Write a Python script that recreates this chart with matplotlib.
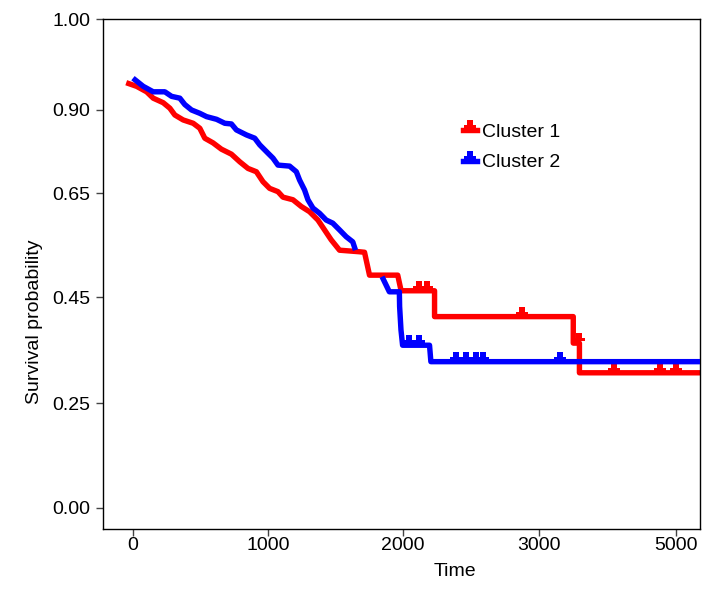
import numpy as np
import matplotlib
matplotlib.use("Agg")
import matplotlib.pyplot as plt
from matplotlib.path import Path
from matplotlib.lines import Line2D

plt.rcParams['font.family'] = ['Liberation Sans', 'DejaVu Sans']

# ---------------- data ----------------
groups = ["Cluster 1", "Cluster 2"]
colors = ["#FF0000", "#0000FF"]

red_time = [-50, 27, 101, 150, 224, 273, 310, 372, 446, 495, 532, 593, 655, 729,
            791, 852, 914, 963, 1012, 1074, 1111, 1185, 1247, 1308, 1370, 1419,
            1468, 1530, 1678, 1715, 1752, 1961, 1986, 2232, 2232, 3500, 3500,
            3590, 3590, 5400]
red_surv = [0.930, 0.926, 0.920, 0.913, 0.908, 0.902, 0.885, 0.870, 0.860, 0.845,
            0.815, 0.801, 0.782, 0.767, 0.744, 0.724, 0.714, 0.684, 0.664, 0.654,
            0.642, 0.637, 0.624, 0.614, 0.598, 0.579, 0.560, 0.540, 0.537, 0.536,
            0.492, 0.492, 0.462, 0.462, 0.413, 0.413, 0.363, 0.363, 0.307, 0.307]
red_censor = [2116, 2175, 2872, 3580, 4095, 4767, 5000]

blue_time = [0, 76, 150, 236, 286, 347, 384, 434, 495, 545, 619, 680, 729, 766,
             840, 902, 939, 1000, 1037, 1074, 1160, 1210, 1234, 1271, 1296, 1333,
             1382, 1431, 1480, 1530, 1579, 1628, 1648, 1700, 1845, 1899, 1973,
             1975, 1985, 1997, 2195, 2205, 5400]
blue_surv = [0.935, 0.926, 0.920, 0.920, 0.915, 0.913, 0.906, 0.900, 0.890, 0.880,
             0.872, 0.860, 0.858, 0.840, 0.825, 0.815, 0.795, 0.770, 0.755, 0.734,
             0.731, 0.714, 0.689, 0.659, 0.637, 0.621, 0.611, 0.598, 0.592, 0.579,
             0.566, 0.556, 0.540, np.nan, 0.489, 0.460, 0.460, 0.432, 0.388, 0.359,
             0.359, 0.328, 0.328]
blue_censor = [2047, 2121, 2392, 2466, 2535, 2589, 3307]

x_ticks = [0, 1000, 2000, 3000, 5000]
y_ticks = [0.00, 0.25, 0.45, 0.65, 0.90, 1.00]

# ------------- axis scale (non-uniform tick spacing as in reference) -------------
x_tick_pos = [0, 135, 270, 406, 543]
y_tick_pos = [0, 105, 211, 315, 398, 489]


def piecewise(xs, ys):
    xs = np.asarray(xs, float)
    ys = np.asarray(ys, float)

    def f(v):
        v = np.asarray(v, float)
        shape = v.shape
        v1 = np.atleast_1d(v).ravel()
        out = np.interp(v1, xs, ys)
        lo = v1 < xs[0]
        hi = v1 > xs[-1]
        out[lo] = ys[0] + (v1[lo] - xs[0]) * (ys[1] - ys[0]) / (xs[1] - xs[0])
        out[hi] = ys[-1] + (v1[hi] - xs[-1]) * (ys[-1] - ys[-2]) / (xs[-1] - xs[-2])
        out[np.isnan(v1)] = np.nan
        return out.reshape(shape)
    return f


fig = plt.figure(figsize=(7.13, 5.93), dpi=100)
ax = fig.add_axes([103 / 713, 1 - 529 / 593, 597 / 713, 510 / 593])

ax.set_xscale('function', functions=(piecewise(x_ticks, x_tick_pos),
                                     piecewise(x_tick_pos, x_ticks)))
ax.set_yscale('function', functions=(piecewise(y_ticks, y_tick_pos),
                                     piecewise(y_tick_pos, y_ticks)))

# censor marker (upside-down T sitting on the line)
verts = [(-6, 2), (6, 2), (6, 5), (3, 5), (3, 10), (-3, 10), (-3, 5), (-6, 5), (-6, 2)]
codes = [Path.MOVETO] + [Path.LINETO] * 7 + [Path.CLOSEPOLY]
cens_marker = Path(verts, codes)
ms = 14.4
lw = 3.9


def value_at(times, survs, t):
    best = None
    for ti, si in zip(times, survs):
        if ti <= t and not np.isnan(si):
            best = si
    return best


series = [(red_time, red_surv, red_censor), (blue_time, blue_surv, blue_censor)]
for k, (t, s, c) in enumerate(series):
    ax.plot(t, s, color=colors[k], lw=lw, solid_joinstyle='round',
            solid_capstyle='butt', zorder=2 + k)
    cy = [value_at(t, s, ci) for ci in c]
    ax.plot(c, cy, ls='none', marker=cens_marker, ms=ms, mew=0,
            color=colors[k], zorder=2 + k)

ax.set_xlim(-222, 5350)
ax.set_ylim(-0.05, 1.00)
ax.set_xticks(x_ticks)
ax.set_xticklabels([str(v) for v in x_ticks])
ax.set_yticks(y_ticks)
ax.set_yticklabels(["%.2f" % v for v in y_ticks])
ax.minorticks_off()

for sp in ax.spines.values():
    sp.set_color('black')
    sp.set_linewidth(1.0)

ax.tick_params(axis='both', direction='out', length=5, width=1, color='#444444',
               labelsize=14, labelcolor='black')
ax.tick_params(axis='y', pad=4)
ax.tick_params(axis='x', pad=1)

ax.set_xlabel("Time", fontsize=14)
ax.set_ylabel("Survival probability", fontsize=14)
ax.xaxis.set_label_coords((455 - 103) / 597, (529 - 572) / 510)
ax.xaxis.label.set_va('center')
ax.yaxis.set_label_coords((35 - 103) / 597, (529 - 322) / 510)
ax.yaxis.label.set_va('center')

handles = [Line2D([0], [0], color=colors[k], lw=lw, marker=cens_marker, ms=ms, mew=0)
           for k in range(2)]
ax.legend(handles, groups, loc='center left', bbox_to_anchor=(463 / 713, 1 - 147.5 / 593),
          bbox_transform=fig.transFigure, frameon=False, fontsize=14,
          handlelength=0.7, handletextpad=0.3, labelspacing=0.65,
          borderpad=0, borderaxespad=0)

fig.savefig("out.png", dpi=100)
